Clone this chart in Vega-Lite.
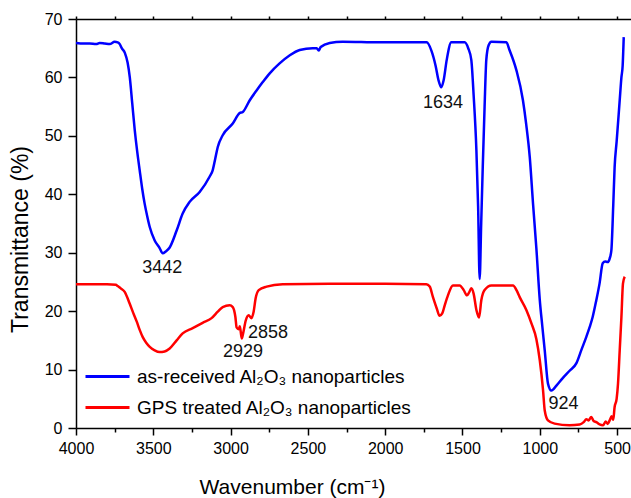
{
  "$schema": "https://vega.github.io/schema/vega-lite/v6.json",
  "width": 555,
  "height": 409,
  "autosize": {"type": "none"},
  "padding": {"left": 76, "top": 19, "right": 0, "bottom": 70},
  "config": {
    "view": {"stroke": null},
    "font": "Liberation Sans",
    "axis": {
      "domainColor": "black",
      "domainWidth": 1.5,
      "tickColor": "black",
      "tickWidth": 1.5,
      "labelColor": "black",
      "labelFont": "Liberation Sans",
      "labelFontSize": 16,
      "titleColor": "black",
      "titleFont": "Liberation Sans",
      "titleFontWeight": "normal",
      "grid": false
    }
  },
  "datasets": {
    "spectra": [
      {"sample": "as-received", "wavenumber": 4000, "transmittance": 65.9},
      {"sample": "as-received", "wavenumber": 3950, "transmittance": 65.8},
      {"sample": "as-received", "wavenumber": 3911, "transmittance": 65.8},
      {"sample": "as-received", "wavenumber": 3870, "transmittance": 65.7},
      {"sample": "as-received", "wavenumber": 3847, "transmittance": 65.9},
      {"sample": "as-received", "wavenumber": 3814, "transmittance": 65.8},
      {"sample": "as-received", "wavenumber": 3782, "transmittance": 65.7},
      {"sample": "as-received", "wavenumber": 3750, "transmittance": 66.1},
      {"sample": "as-received", "wavenumber": 3730, "transmittance": 66.0},
      {"sample": "as-received", "wavenumber": 3717, "transmittance": 65.7},
      {"sample": "as-received", "wavenumber": 3704, "transmittance": 65.0},
      {"sample": "as-received", "wavenumber": 3684, "transmittance": 64.2},
      {"sample": "as-received", "wavenumber": 3666, "transmittance": 62.5},
      {"sample": "as-received", "wavenumber": 3652, "transmittance": 60.0},
      {"sample": "as-received", "wavenumber": 3636, "transmittance": 55.5},
      {"sample": "as-received", "wavenumber": 3620, "transmittance": 51.0},
      {"sample": "as-received", "wavenumber": 3604, "transmittance": 47.3},
      {"sample": "as-received", "wavenumber": 3588, "transmittance": 44.1},
      {"sample": "as-received", "wavenumber": 3572, "transmittance": 41.0},
      {"sample": "as-received", "wavenumber": 3556, "transmittance": 38.4},
      {"sample": "as-received", "wavenumber": 3539, "transmittance": 36.2},
      {"sample": "as-received", "wavenumber": 3523, "transmittance": 34.4},
      {"sample": "as-received", "wavenumber": 3491, "transmittance": 32.1},
      {"sample": "as-received", "wavenumber": 3459, "transmittance": 30.8},
      {"sample": "as-received", "wavenumber": 3439, "transmittance": 29.9},
      {"sample": "as-received", "wavenumber": 3420, "transmittance": 30.2},
      {"sample": "as-received", "wavenumber": 3394, "transmittance": 30.9},
      {"sample": "as-received", "wavenumber": 3349, "transmittance": 33.8},
      {"sample": "as-received", "wavenumber": 3310, "transmittance": 36.7},
      {"sample": "as-received", "wavenumber": 3265, "transmittance": 38.7},
      {"sample": "as-received", "wavenumber": 3200, "transmittance": 40.4},
      {"sample": "as-received", "wavenumber": 3136, "transmittance": 43.0},
      {"sample": "as-received", "wavenumber": 3116, "transmittance": 44.1},
      {"sample": "as-received", "wavenumber": 3100, "transmittance": 46.0},
      {"sample": "as-received", "wavenumber": 3083, "transmittance": 48.1},
      {"sample": "as-received", "wavenumber": 3051, "transmittance": 50.1},
      {"sample": "as-received", "wavenumber": 2986, "transmittance": 52.1},
      {"sample": "as-received", "wavenumber": 2941, "transmittance": 53.9},
      {"sample": "as-received", "wavenumber": 2921, "transmittance": 54.1},
      {"sample": "as-received", "wavenumber": 2876, "transmittance": 56.1},
      {"sample": "as-received", "wavenumber": 2831, "transmittance": 57.8},
      {"sample": "as-received", "wavenumber": 2792, "transmittance": 59.2},
      {"sample": "as-received", "wavenumber": 2747, "transmittance": 60.7},
      {"sample": "as-received", "wavenumber": 2683, "transmittance": 62.4},
      {"sample": "as-received", "wavenumber": 2617, "transmittance": 63.8},
      {"sample": "as-received", "wavenumber": 2553, "transmittance": 64.7},
      {"sample": "as-received", "wavenumber": 2469, "transmittance": 65.0},
      {"sample": "as-received", "wavenumber": 2443, "transmittance": 65.0},
      {"sample": "as-received", "wavenumber": 2430, "transmittance": 64.6},
      {"sample": "as-received", "wavenumber": 2417, "transmittance": 65.2},
      {"sample": "as-received", "wavenumber": 2359, "transmittance": 65.9},
      {"sample": "as-received", "wavenumber": 2275, "transmittance": 66.1},
      {"sample": "as-received", "wavenumber": 2036, "transmittance": 66.0},
      {"sample": "as-received", "wavenumber": 1732, "transmittance": 66.0},
      {"sample": "as-received", "wavenumber": 1700, "transmittance": 64.5},
      {"sample": "as-received", "wavenumber": 1674, "transmittance": 62.0},
      {"sample": "as-received", "wavenumber": 1655, "transmittance": 59.5},
      {"sample": "as-received", "wavenumber": 1637, "transmittance": 58.3},
      {"sample": "as-received", "wavenumber": 1622, "transmittance": 59.5},
      {"sample": "as-received", "wavenumber": 1602, "transmittance": 63.0},
      {"sample": "as-received", "wavenumber": 1572, "transmittance": 66.0},
      {"sample": "as-received", "wavenumber": 1486, "transmittance": 66.0},
      {"sample": "as-received", "wavenumber": 1463, "transmittance": 65.0},
      {"sample": "as-received", "wavenumber": 1443, "transmittance": 63.0},
      {"sample": "as-received", "wavenumber": 1428, "transmittance": 57.0},
      {"sample": "as-received", "wavenumber": 1410, "transmittance": 47.5},
      {"sample": "as-received", "wavenumber": 1399, "transmittance": 38.0},
      {"sample": "as-received", "wavenumber": 1389, "transmittance": 25.5},
      {"sample": "as-received", "wavenumber": 1379, "transmittance": 35.0},
      {"sample": "as-received", "wavenumber": 1369, "transmittance": 44.6},
      {"sample": "as-received", "wavenumber": 1357, "transmittance": 55.0},
      {"sample": "as-received", "wavenumber": 1346, "transmittance": 63.0},
      {"sample": "as-received", "wavenumber": 1331, "transmittance": 65.5},
      {"sample": "as-received", "wavenumber": 1313, "transmittance": 66.1},
      {"sample": "as-received", "wavenumber": 1216, "transmittance": 66.0},
      {"sample": "as-received", "wavenumber": 1196, "transmittance": 64.7},
      {"sample": "as-received", "wavenumber": 1152, "transmittance": 61.3},
      {"sample": "as-received", "wavenumber": 1109, "transmittance": 56.1},
      {"sample": "as-received", "wavenumber": 1088, "transmittance": 52.0},
      {"sample": "as-received", "wavenumber": 1065, "transmittance": 46.4},
      {"sample": "as-received", "wavenumber": 1044, "transmittance": 38.5},
      {"sample": "as-received", "wavenumber": 1022, "transmittance": 30.7},
      {"sample": "as-received", "wavenumber": 1000, "transmittance": 21.9},
      {"sample": "as-received", "wavenumber": 984, "transmittance": 17.5},
      {"sample": "as-received", "wavenumber": 968, "transmittance": 13.3},
      {"sample": "as-received", "wavenumber": 947, "transmittance": 7.6},
      {"sample": "as-received", "wavenumber": 925, "transmittance": 6.4},
      {"sample": "as-received", "wavenumber": 891, "transmittance": 7.3},
      {"sample": "as-received", "wavenumber": 853, "transmittance": 8.5},
      {"sample": "as-received", "wavenumber": 807, "transmittance": 9.8},
      {"sample": "as-received", "wavenumber": 763, "transmittance": 11.1},
      {"sample": "as-received", "wavenumber": 729, "transmittance": 13.5},
      {"sample": "as-received", "wavenumber": 699, "transmittance": 15.6},
      {"sample": "as-received", "wavenumber": 677, "transmittance": 17.3},
      {"sample": "as-received", "wavenumber": 658, "transmittance": 19.0},
      {"sample": "as-received", "wavenumber": 635, "transmittance": 21.8},
      {"sample": "as-received", "wavenumber": 613, "transmittance": 24.8},
      {"sample": "as-received", "wavenumber": 593, "transmittance": 28.2},
      {"sample": "as-received", "wavenumber": 577, "transmittance": 28.5},
      {"sample": "as-received", "wavenumber": 561, "transmittance": 28.4},
      {"sample": "as-received", "wavenumber": 548, "transmittance": 29.0},
      {"sample": "as-received", "wavenumber": 537, "transmittance": 30.4},
      {"sample": "as-received", "wavenumber": 525, "transmittance": 38.0},
      {"sample": "as-received", "wavenumber": 516, "transmittance": 44.6},
      {"sample": "as-received", "wavenumber": 503, "transmittance": 49.0},
      {"sample": "as-received", "wavenumber": 483, "transmittance": 56.1},
      {"sample": "as-received", "wavenumber": 472, "transmittance": 60.0},
      {"sample": "as-received", "wavenumber": 464, "transmittance": 62.0},
      {"sample": "as-received", "wavenumber": 457, "transmittance": 66.9},
      {"sample": "GPS treated", "wavenumber": 4000, "transmittance": 24.6},
      {"sample": "GPS treated", "wavenumber": 3900, "transmittance": 24.6},
      {"sample": "GPS treated", "wavenumber": 3800, "transmittance": 24.6},
      {"sample": "GPS treated", "wavenumber": 3743, "transmittance": 24.5},
      {"sample": "GPS treated", "wavenumber": 3730, "transmittance": 24.3},
      {"sample": "GPS treated", "wavenumber": 3711, "transmittance": 23.9},
      {"sample": "GPS treated", "wavenumber": 3685, "transmittance": 23.3},
      {"sample": "GPS treated", "wavenumber": 3653, "transmittance": 21.3},
      {"sample": "GPS treated", "wavenumber": 3630, "transmittance": 19.7},
      {"sample": "GPS treated", "wavenumber": 3607, "transmittance": 18.2},
      {"sample": "GPS treated", "wavenumber": 3588, "transmittance": 16.8},
      {"sample": "GPS treated", "wavenumber": 3569, "transmittance": 15.6},
      {"sample": "GPS treated", "wavenumber": 3546, "transmittance": 14.6},
      {"sample": "GPS treated", "wavenumber": 3523, "transmittance": 13.9},
      {"sample": "GPS treated", "wavenumber": 3491, "transmittance": 13.3},
      {"sample": "GPS treated", "wavenumber": 3459, "transmittance": 13.0},
      {"sample": "GPS treated", "wavenumber": 3427, "transmittance": 13.1},
      {"sample": "GPS treated", "wavenumber": 3394, "transmittance": 13.6},
      {"sample": "GPS treated", "wavenumber": 3349, "transmittance": 15.0},
      {"sample": "GPS treated", "wavenumber": 3310, "transmittance": 16.2},
      {"sample": "GPS treated", "wavenumber": 3245, "transmittance": 17.1},
      {"sample": "GPS treated", "wavenumber": 3181, "transmittance": 18.0},
      {"sample": "GPS treated", "wavenumber": 3123, "transmittance": 18.8},
      {"sample": "GPS treated", "wavenumber": 3083, "transmittance": 19.9},
      {"sample": "GPS treated", "wavenumber": 3051, "transmittance": 20.7},
      {"sample": "GPS treated", "wavenumber": 3006, "transmittance": 21.0},
      {"sample": "GPS treated", "wavenumber": 2986, "transmittance": 20.7},
      {"sample": "GPS treated", "wavenumber": 2969, "transmittance": 19.0},
      {"sample": "GPS treated", "wavenumber": 2961, "transmittance": 17.2},
      {"sample": "GPS treated", "wavenumber": 2948, "transmittance": 16.9},
      {"sample": "GPS treated", "wavenumber": 2940, "transmittance": 17.4},
      {"sample": "GPS treated", "wavenumber": 2928, "transmittance": 15.3},
      {"sample": "GPS treated", "wavenumber": 2919, "transmittance": 16.2},
      {"sample": "GPS treated", "wavenumber": 2902, "transmittance": 18.4},
      {"sample": "GPS treated", "wavenumber": 2883, "transmittance": 19.3},
      {"sample": "GPS treated", "wavenumber": 2866, "transmittance": 18.8},
      {"sample": "GPS treated", "wavenumber": 2851, "transmittance": 19.9},
      {"sample": "GPS treated", "wavenumber": 2838, "transmittance": 22.2},
      {"sample": "GPS treated", "wavenumber": 2818, "transmittance": 23.6},
      {"sample": "GPS treated", "wavenumber": 2767, "transmittance": 24.2},
      {"sample": "GPS treated", "wavenumber": 2663, "transmittance": 24.6},
      {"sample": "GPS treated", "wavenumber": 2359, "transmittance": 24.7},
      {"sample": "GPS treated", "wavenumber": 2000, "transmittance": 24.7},
      {"sample": "GPS treated", "wavenumber": 1734, "transmittance": 24.6},
      {"sample": "GPS treated", "wavenumber": 1712, "transmittance": 24.2},
      {"sample": "GPS treated", "wavenumber": 1691, "transmittance": 22.4},
      {"sample": "GPS treated", "wavenumber": 1667, "transmittance": 20.5},
      {"sample": "GPS treated", "wavenumber": 1648, "transmittance": 19.2},
      {"sample": "GPS treated", "wavenumber": 1631, "transmittance": 19.6},
      {"sample": "GPS treated", "wavenumber": 1615, "transmittance": 21.0},
      {"sample": "GPS treated", "wavenumber": 1594, "transmittance": 22.7},
      {"sample": "GPS treated", "wavenumber": 1562, "transmittance": 24.4},
      {"sample": "GPS treated", "wavenumber": 1518, "transmittance": 24.4},
      {"sample": "GPS treated", "wavenumber": 1492, "transmittance": 23.6},
      {"sample": "GPS treated", "wavenumber": 1471, "transmittance": 22.7},
      {"sample": "GPS treated", "wavenumber": 1457, "transmittance": 23.2},
      {"sample": "GPS treated", "wavenumber": 1443, "transmittance": 23.9},
      {"sample": "GPS treated", "wavenumber": 1428, "transmittance": 23.0},
      {"sample": "GPS treated", "wavenumber": 1410, "transmittance": 20.2},
      {"sample": "GPS treated", "wavenumber": 1393, "transmittance": 18.9},
      {"sample": "GPS treated", "wavenumber": 1378, "transmittance": 21.9},
      {"sample": "GPS treated", "wavenumber": 1357, "transmittance": 23.6},
      {"sample": "GPS treated", "wavenumber": 1313, "transmittance": 24.4},
      {"sample": "GPS treated", "wavenumber": 1173, "transmittance": 24.4},
      {"sample": "GPS treated", "wavenumber": 1149, "transmittance": 23.5},
      {"sample": "GPS treated", "wavenumber": 1130, "transmittance": 22.4},
      {"sample": "GPS treated", "wavenumber": 1087, "transmittance": 20.2},
      {"sample": "GPS treated", "wavenumber": 1054, "transmittance": 17.9},
      {"sample": "GPS treated", "wavenumber": 1022, "transmittance": 15.2},
      {"sample": "GPS treated", "wavenumber": 1000, "transmittance": 11.6},
      {"sample": "GPS treated", "wavenumber": 979, "transmittance": 6.5},
      {"sample": "GPS treated", "wavenumber": 968, "transmittance": 3.0},
      {"sample": "GPS treated", "wavenumber": 947, "transmittance": 1.3},
      {"sample": "GPS treated", "wavenumber": 904, "transmittance": 0.75},
      {"sample": "GPS treated", "wavenumber": 807, "transmittance": 0.46},
      {"sample": "GPS treated", "wavenumber": 742, "transmittance": 0.6},
      {"sample": "GPS treated", "wavenumber": 716, "transmittance": 1.0},
      {"sample": "GPS treated", "wavenumber": 699, "transmittance": 1.5},
      {"sample": "GPS treated", "wavenumber": 684, "transmittance": 1.3},
      {"sample": "GPS treated", "wavenumber": 667, "transmittance": 1.9},
      {"sample": "GPS treated", "wavenumber": 652, "transmittance": 1.2},
      {"sample": "GPS treated", "wavenumber": 634, "transmittance": 1.0},
      {"sample": "GPS treated", "wavenumber": 613, "transmittance": 0.6},
      {"sample": "GPS treated", "wavenumber": 591, "transmittance": 0.46},
      {"sample": "GPS treated", "wavenumber": 574, "transmittance": 1.1},
      {"sample": "GPS treated", "wavenumber": 561, "transmittance": 0.7},
      {"sample": "GPS treated", "wavenumber": 548, "transmittance": 1.3},
      {"sample": "GPS treated", "wavenumber": 535, "transmittance": 2.0},
      {"sample": "GPS treated", "wavenumber": 525, "transmittance": 1.4},
      {"sample": "GPS treated", "wavenumber": 516, "transmittance": 3.6},
      {"sample": "GPS treated", "wavenumber": 503, "transmittance": 5.0},
      {"sample": "GPS treated", "wavenumber": 494, "transmittance": 7.6},
      {"sample": "GPS treated", "wavenumber": 483, "transmittance": 13.3},
      {"sample": "GPS treated", "wavenumber": 472, "transmittance": 19.0},
      {"sample": "GPS treated", "wavenumber": 462, "transmittance": 24.7},
      {"sample": "GPS treated", "wavenumber": 451, "transmittance": 25.9}
    ],
    "peaks": [
      {"label": "3442", "wavenumber": 3442, "transmittance": 27.4},
      {"label": "1634", "wavenumber": 1626, "transmittance": 55.6},
      {"label": "2929", "wavenumber": 2920, "transmittance": 13.0},
      {"label": "2858", "wavenumber": 2758, "transmittance": 16.3},
      {"label": "924", "wavenumber": 847, "transmittance": 4.1}
    ]
  },
  "layer": [
    {
      "data": {"name": "spectra"},
      "mark": {"type": "line", "strokeWidth": 2.5, "interpolate": "monotone"},
      "encoding": {
        "x": {
          "field": "wavenumber",
          "type": "quantitative",
          "scale": {"domain": [410, 4000], "reverse": true, "nice": false, "zero": false},
          "axis": {
            "orient": "bottom",
            "title": "Wavenumber (cm⁻¹)",
            "titleFontSize": 21,
            "titleX": 216,
            "titleY": 65,
            "titleBaseline": "alphabetic",
            "values": [4000, 3750, 3500, 3250, 3000, 2750, 2500, 2250, 2000, 1750, 1500, 1250, 1000, 750, 500],
            "format": "d",
            "labelExpr": "datum.value % 500 === 0 ? datum.label : ''",
            "tickSize": {"condition": {"test": "datum.value % 500 === 0", "value": 7}, "value": 4},
            "labelPadding": 5,
            "labelFlush": false,
            "labelOverlap": false
          }
        },
        "y": {
          "field": "transmittance",
          "type": "quantitative",
          "scale": {"domain": [0, 70], "nice": false, "zero": false},
          "axis": {
            "title": "Transmittance (%)",
            "titleFontSize": 23,
            "titleX": -49,
            "titleY": 220,
            "titleBaseline": "alphabetic",
            "values": [0, 5, 10, 15, 20, 25, 30, 35, 40, 45, 50, 55, 60, 65, 70],
            "labelExpr": "datum.value % 10 === 0 ? datum.label : ''",
            "tickSize": {"condition": {"test": "datum.value % 10 === 0", "value": 8}, "value": 4},
            "labelPadding": 6,
            "labelFlush": false,
            "labelOverlap": false
          }
        },
        "color": {
          "field": "sample",
          "type": "nominal",
          "scale": {"domain": ["as-received", "GPS treated"], "range": ["#0000ff", "#ff0000"]},
          "legend": {
            "orient": "none",
            "legendX": 8,
            "legendY": 345,
            "title": null,
            "padding": 0,
            "symbolType": "M-1,0H3",
            "symbolSize": 484,
            "symbolStrokeWidth": 3,
            "labelFontSize": 19,
            "labelColor": "black",
            "labelOffset": 28,
            "rowPadding": 8,
            "labelLimit": 400,
            "labelExpr": "datum.value === 'as-received' ? 'as-received Al₂O₃ nanoparticles' : 'GPS treated Al₂O₃ nanoparticles'"
          }
        }
      }
    },
    {
      "data": {"name": "peaks"},
      "mark": {"type": "text", "fontSize": 18, "color": "#111111", "align": "center", "baseline": "middle"},
      "encoding": {
        "x": {
          "field": "wavenumber",
          "type": "quantitative",
          "axis": {
            "orient": "top",
            "title": null,
            "labels": false,
            "values": [4000, 3750, 3500, 3250, 3000, 2750, 2500, 2250, 2000, 1750, 1500, 1250, 1000, 750, 500],
            "tickSize": 3
          }
        },
        "y": {"field": "transmittance", "type": "quantitative", "title": "Transmittance (%)"},
        "text": {"field": "label"}
      }
    }
  ],
  "resolve": {"axis": {"x": "independent"}}
}
